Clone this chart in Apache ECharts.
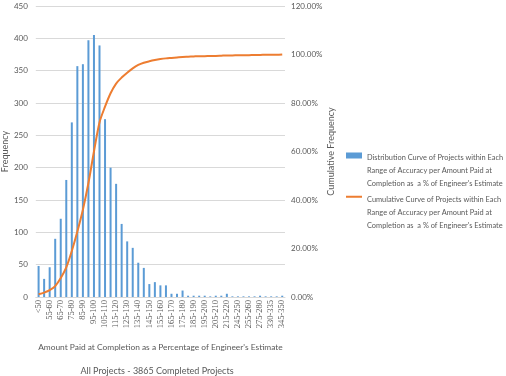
<!DOCTYPE html>
<html>
<head>
<meta charset="utf-8">
<script src="https://cdn.jsdelivr.net/npm/echarts@6/dist/echarts.min.js"></script>
<style>
  html, body { margin: 0; padding: 0; background: #fff; }
  #chart { width: 506px; height: 376px; }
</style>
</head>
<body>
<div id="chart"></div>
<script>
var categories = ['<50', '50-55', '55-60', '60-65', '65-70', '70-75', '75-80', '80-85', '85-90', '90-95',
  '95-100', '100-105', '105-110', '110-115', '115-120', '120-125', '125-130', '130-135', '135-140', '140-145',
  '145-150', '150-155', '155-160', '160-165', '165-170', '170-175', '175-180', '180-185', '185-190', '190-195',
  '195-200', '200-205', '205-210', '210-215', '215-220', '225-230', '245-250', '250-255', '255-260', '265-270',
  '275-280', '295-300', '330-335', '335-340', '345-350'];

var frequency = [48, 28, 46, 90, 121, 181, 270, 357, 360, 397,
  405, 389, 275, 200, 175, 113, 86, 76, 53, 45,
  20, 23, 18, 18, 5, 5, 10, 2, 2, 2,
  2, 1, 2, 2, 5, 1, 1, 1, 1, 1,
  2, 1, 1, 1, 2];

var cumulative = [0.011, 0.018, 0.028, 0.045, 0.078, 0.122, 0.19, 0.27, 0.36, 0.47,
  0.60, 0.72, 0.785, 0.84, 0.88, 0.905, 0.925, 0.943, 0.957, 0.966,
  0.972, 0.977, 0.981, 0.984, 0.986, 0.988, 0.99, 0.991, 0.992, 0.993,
  0.993, 0.994, 0.994, 0.995, 0.996, 0.996, 0.997, 0.997, 0.997, 0.998,
  0.998, 0.999, 0.999, 0.999, 1.0];

var barName = 'Distribution Curve of Projects within Each\nRange of Accuracy per Amount Paid at\nCompletion as  a % of Engineer\'s Estimate';
var lineName = 'Cumulative Curve of Projects within Each\nRange of Accuracy per Amount Paid at\nCompletion as  a % of Engineer\'s Estimate';

var grey = '#595959';
var font = 'Lato';

var chartDom = document.getElementById('chart');
var myChart = echarts.init(chartDom);
var option;

option = {
  animation: false,
  textStyle: { fontFamily: font },
  title: {
    text: 'All Projects - 3865 Completed Projects',
    left: 152,
    top: 362,
    textAlign: 'center',
    textStyle: { fontSize: 9, fontWeight: 'normal', color: grey, fontFamily: font }
  },
  grid: { left: 33, right: 221, top: 6, bottom: 79 },
  legend: {
    orient: 'vertical',
    left: 346,
    top: 151,
    padding: 0,
    itemGap: 3,
    itemWidth: 16,
    itemHeight: 39,
    itemStyle: { borderWidth: 0 },
    textStyle: { fontSize: 7.4, color: grey, lineHeight: 13, fontFamily: font },
    data: [
      { name: barName, icon: 'path://M0,3L16,3L16,9L0,9Z M0,39L0.01,39' },
      { name: lineName, icon: 'path://M0,5.5L16,5.5L16,7.5L0,7.5Z M0,39L0.01,39' }
    ]
  },
  xAxis: {
    type: 'category',
    data: categories,
    axisTick: { show: false },
    axisLine: { lineStyle: { color: '#D9D9D9' } },
    axisLabel: {
      interval: 1,
      rotate: 90,
      margin: 3,
      fontFamily: 'Liberation Serif',
      fontSize: 8.5,
      color: grey
    },
    name: 'Amount Paid at Completion as a Percentage of Engineer\'s Estimate',
    nameLocation: 'middle',
    nameGap: 46,
    nameTextStyle: { fontSize: 8.4, color: grey, fontFamily: font }
  },
  yAxis: [
    {
      type: 'value',
      min: 0,
      max: 450,
      interval: 50,
      axisLabel: { fontSize: 8, color: grey, margin: 8 },
      splitLine: { lineStyle: { color: '#D9D9D9' } },
      name: 'Frequency',
      nameLocation: 'middle',
      nameGap: 21,
      nameTextStyle: { fontSize: 9, color: grey, fontFamily: font }
    },
    {
      type: 'value',
      min: 0,
      max: 1.2,
      interval: 0.2,
      position: 'right',
      splitLine: { show: false },
      axisLabel: {
        fontSize: 8,
        color: grey,
        margin: 6,
        formatter: function (v) { return (v * 100).toFixed(2) + '%'; }
      },
      name: 'Cumulative Frequency',
      nameLocation: 'middle',
      nameRotate: 90,
      nameGap: 32,
      nameTextStyle: { fontSize: 9, color: grey, fontFamily: font }
    }
  ],
  series: [
    {
      name: barName,
      type: 'bar',
      barWidth: 2,
      itemStyle: { color: '#5B9BD5' },
      data: frequency
    },
    {
      name: lineName,
      type: 'line',
      yAxisIndex: 1,
      smooth: 0.3,
      symbol: 'none',
      lineStyle: { color: '#ED7D31', width: 2 },
      itemStyle: { color: '#ED7D31' },
      data: cumulative
    }
  ]
};

option && myChart.setOption(option);
</script>
</body>
</html>
